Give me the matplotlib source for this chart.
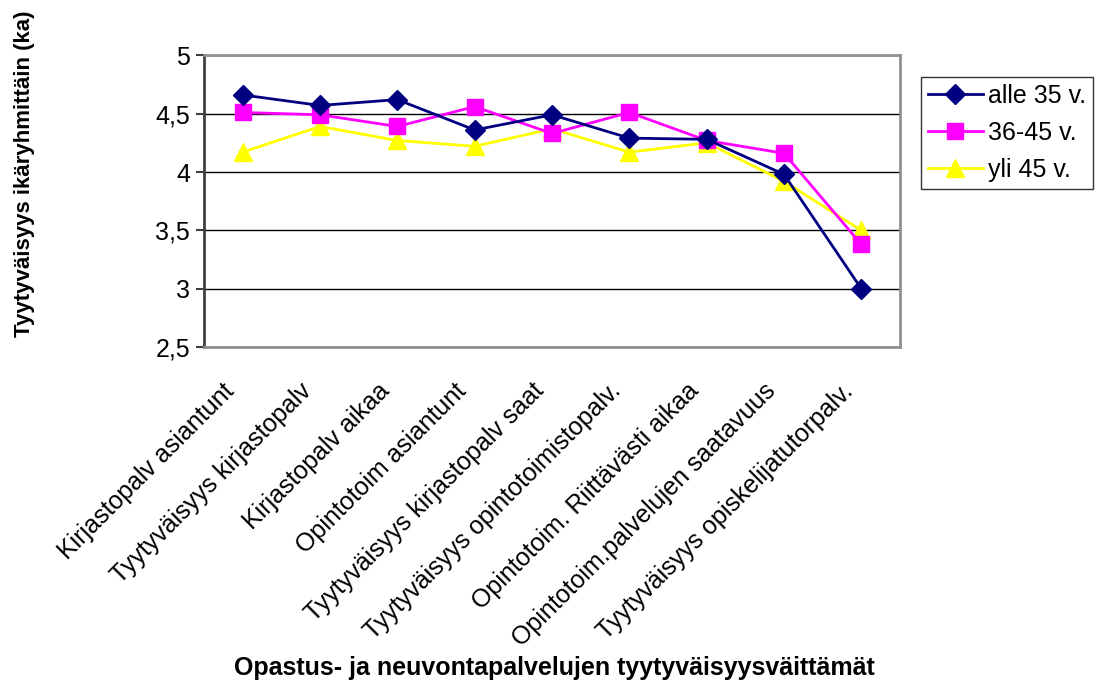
import numpy as np
from matplotlib import pyplot as plt
from matplotlib.ticker import FuncFormatter
from matplotlib.transforms import ScaledTranslation

plt.rcParams['font.family'] = ['Liberation Sans', 'DejaVu Sans']

categories = ["Kirjastopalv asiantunt", "Tyytyväisyys kirjastopalv", "Kirjastopalv aikaa",
              "Opintotoim asiantunt", "Tyytyväisyys kirjastopalv saat",
              "Tyytyväisyys opintotoimistopalv.", "Opintotoim. Riittävästi aikaa",
              "Opintotoim.palvelujen saatavuus", "Tyytyväisyys opiskelijatutorpalv."]
alle_35 = [4.66, 4.57, 4.62, 4.36, 4.49, 4.29, 4.28, 3.98, 3.00]
v36_45 = [4.51, 4.49, 4.39, 4.56, 4.33, 4.51, 4.27, 4.16, 3.38]
yli_45 = [4.17, 4.39, 4.27, 4.22, 4.37, 4.17, 4.25, 3.92, 3.50]

fig = plt.figure(figsize=(11.07, 6.82), dpi=100)
ax = fig.add_axes([0.1843, 0.491, 0.6287, 0.428])
x = np.arange(len(categories))

ax.plot(x, alle_35, color='#000080', marker='D', markersize=10, linewidth=2, label='alle 35 v.', zorder=5)
ax.plot(x, v36_45, color='#FF00FF', marker='s', markersize=11, linewidth=2, label='36-45 v.', zorder=4)
ax.plot(x, yli_45, color='#FFFF00', marker='^', markersize=13, linewidth=2, label='yli 45 v.', zorder=3)

ax.set_xlim(-0.5, len(categories) - 0.5)
ax.set_ylim(2.5, 5)
ax.set_yticks(np.arange(2.5, 5.01, 0.5))
ax.yaxis.set_major_formatter(FuncFormatter(lambda v, p: ('%g' % v).replace('.', ',')))
ax.yaxis.grid(True, color='black', linewidth=1)
ax.set_axisbelow(True)

ax.set_xticks(x)
ax.set_xticklabels(categories, rotation=45, ha='right', va='center', rotation_mode='anchor', fontsize=18)
ax.tick_params(axis='x', length=0, pad=26)
ax.tick_params(axis='y', labelsize=18, length=6, width=1.5, color='#404040', pad=4)
# nudge the slanted labels a little left of their category
shift = ScaledTranslation(-0.12, -0.04, fig.dpi_scale_trans)
for lab in ax.get_xticklabels():
    lab.set_transform(lab.get_transform() + shift)

for side in ['top', 'right', 'bottom']:
    ax.spines[side].set_color('#909090')
    ax.spines[side].set_linewidth(2)
ax.spines['left'].set_color('#404040')
ax.spines['left'].set_linewidth(2)

ax.set_ylabel('Tyytyväisyys ikäryhmittäin (ka)', fontsize=16, fontweight='bold')
ax.yaxis.set_label_coords(-0.243, 0.594)
fig.text(0.5005, 0.010, 'Opastus- ja neuvontapalvelujen tyytyväisyysväittämät',
         ha='center', fontsize=18, fontweight='bold')

leg = ax.legend(loc='upper left', bbox_to_anchor=(1.030, 0.925), fontsize=18, frameon=True,
                fancybox=False, edgecolor='black', handlelength=2.2, handletextpad=0.2,
                borderpad=0.28, labelspacing=0.52, borderaxespad=0.0)
leg.get_frame().set_linewidth(1)

fig.savefig('out.png', dpi=100)
